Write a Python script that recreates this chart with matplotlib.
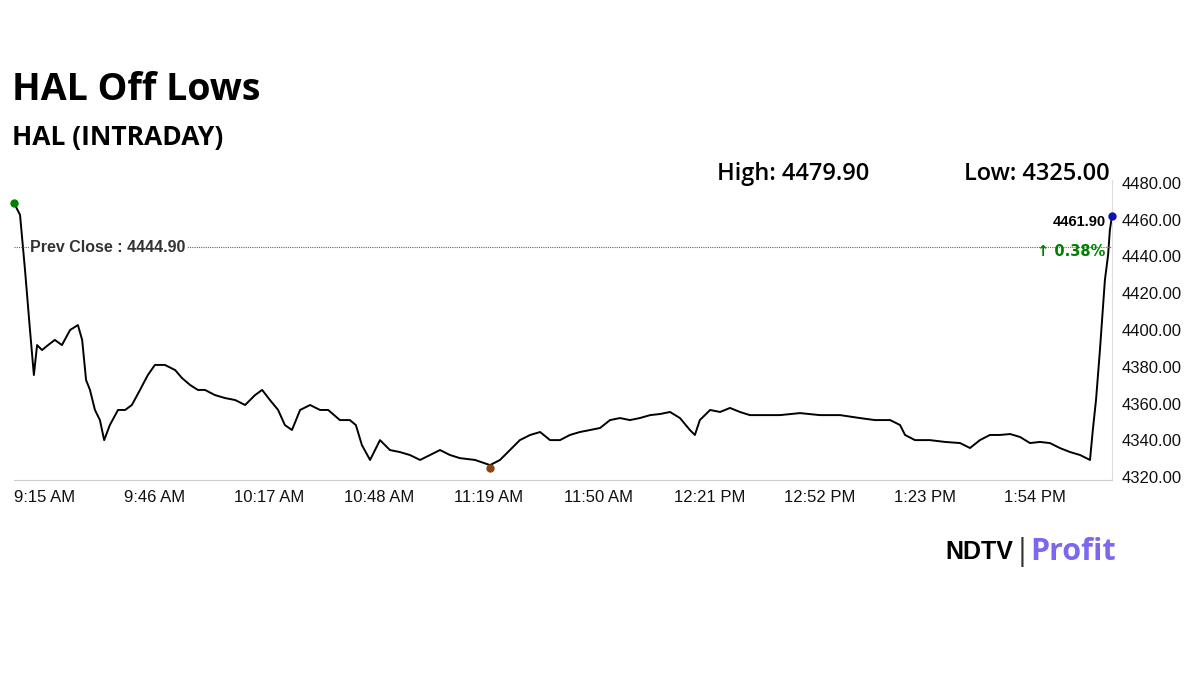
import matplotlib
matplotlib.use("Agg")
import matplotlib.pyplot as plt

minutes = [0,1.7,3.1,4.5,5.6,6.5,7.9,9.6,11.5,13.5,15.8,18,19.2,20.3,21.4,22.8,24.2,25.4,27,29.3,31.3,33.2,35.5,37.7,39.7,42.5,45.4,47.3,49.6,51.8,53.8,56.6,59.4,62.3,65.1,67.9,69.9,72.1,74.4,76.3,78.3,80.6,83.4,86.2,88.5,91.8,94.6,96.3,98,100.3,103.1,105.9,108.7,111.5,114.4,117.2,120,122.8,125.6,129.9,134.1,136.9,139.7,142.5,145.4,148.2,151,153.8,156.6,159.4,162.3,165.1,167.9,170.7,173.5,176.3,179.2,182,184.8,187.6,190.4,191.8,193.2,196.1,198.9,201.7,204.5,207.3,210.1,215.8,221.4,227,232.7,238.3,242.5,246.8,249.6,251,253.8,258,262.3,266.5,269.3,272.1,274.9,277.7,280.6,283.4,286.2,289,291.8,294.6,297.5,300.3,303.1,303.9,304.8,305.9,307.3,308.2,308.7,309.3]
prices = [4469.1,4462.6,4432.7,4400,4375.5,4391.8,4389.1,4391.8,4394.6,4391.8,4400,4402.7,4394.6,4372.8,4367.4,4356.5,4351,4340.1,4348.3,4356.5,4356.5,4359.2,4367.4,4375.5,4381,4381,4378.2,4373.9,4370.1,4367.4,4367.4,4364.6,4363,4361.9,4359.2,4364.6,4367.4,4361.9,4356.5,4348.3,4345.6,4356.5,4359.2,4356.5,4356.5,4351,4351,4348.3,4337.4,4329.3,4340.1,4334.7,4333.6,4332,4329.3,4332,4334.7,4332,4330.3,4329.3,4326.5,4329.3,4334.7,4340.1,4342.9,4344.5,4340.1,4340.1,4342.9,4344.5,4345.6,4346.7,4351,4352.1,4351,4352.1,4353.7,4354.3,4355.4,4352.1,4345.6,4342.9,4351,4356.5,4355.4,4357.6,4355.4,4353.7,4353.7,4353.7,4354.8,4353.7,4353.7,4352.1,4351,4351,4348.3,4342.9,4340.1,4340.1,4339.1,4338.5,4335.8,4340.1,4342.9,4342.9,4343.4,4341.8,4338.5,4339.1,4338.5,4335.8,4333.6,4332,4329.3,4345.6,4362,4389.1,4427.2,4440.8,4454.4,4461.9]
xtick_labels = ["9:15 AM","9:46 AM","10:17 AM","10:48 AM","11:19 AM","11:50 AM","12:21 PM","12:52 PM","1:23 PM","1:54 PM"]
yticks = [4320,4340,4360,4380,4400,4420,4440,4460,4480]
prev_close = 4444.90
high, low, last, chg = 4479.90, 4325.00, 4461.90, 0.38
low_min = 134.1

plt.rcParams['font.family'] = ['Open Sans', 'DejaVu Sans']
fig = plt.figure(figsize=(12, 6.75), dpi=100)
ax = fig.add_axes([14/1200, 1-480/675, 1098/1200, 300/675])
ax.plot(minutes, prices, color='black', lw=1.4)
ax.set_xlim(0, 309.3)
ax.set_ylim(4318.4, 4481.6)
ax.axhline(prev_close, color='#a0522d', lw=0.8, ls=(0, (1, 1)))
ax.text(4.5, prev_close, "Prev Close : 4444.90", fontsize=11.5, fontweight='bold', color='#333333',
        va='center', ha='left', family=['Liberation Sans'], bbox=dict(fc='white', ec='none', pad=1))
ax.plot([0], [prices[0]], 'o', color='green', ms=5, zorder=5, clip_on=False)
ax.plot([low_min], [low], 'o', color='#8b4513', ms=5, zorder=5)
ax.plot([minutes[-1]], [last], 'o', color='#1010b0', ms=5, zorder=5, clip_on=False)
ax.text(307.5, 4455, f"{last:.2f}", fontsize=10.5, fontweight='bold', ha='right', va='bottom', family=['Liberation Sans'])
ax.text(307.5, 4447, f"\u2191 {chg:.2f}%", fontsize=10.5, fontweight='bold', ha='right', va='top', color='green', family=['DejaVu Sans'])

ax.set_xticks([i*31 for i in range(len(xtick_labels))])
ax.set_xticklabels(xtick_labels, fontsize=12, family=['Liberation Sans'], ha='left')
ax.set_yticks(yticks)
ax.set_yticklabels([f"{v:.2f}" for v in yticks], fontsize=12, family=['Liberation Sans'])
ax.yaxis.tick_right()
ax.tick_params(axis='both', length=0, pad=7, colors='#111111')
for s in ['top', 'left']:
    ax.spines[s].set_visible(False)
ax.spines['bottom'].set_color('#cccccc')
ax.spines['right'].set_color('#dddddd')

fig.text(12/1200, 1-90/675, "HAL Off Lows", fontsize=27, fontweight='bold', va='center')
fig.text(12/1200, 1-138/675, "HAL (INTRADAY)", fontsize=19, fontweight='bold', va='center')
fig.text(717/1200, 1-174/675, f"High: {high:.2f}", fontsize=17, fontweight='semibold', va='center')
fig.text(964/1200, 1-174/675, f"Low: {low:.2f}", fontsize=17, fontweight='semibold', va='center')
fig.text(1013/1200, 1-552/675, "NDTV", fontsize=18, fontweight='black', ha='right', va='center', family=['Liberation Sans'])
fig.text(1022/1200, 1-552/675, "|", fontsize=22, ha='center', va='center', color='#333333')
fig.text(1030/1200, 1-552/675, "Profit", fontsize=22, fontweight='bold', ha='left', va='center', color='#7b68ee')
fig.savefig("out.png")
